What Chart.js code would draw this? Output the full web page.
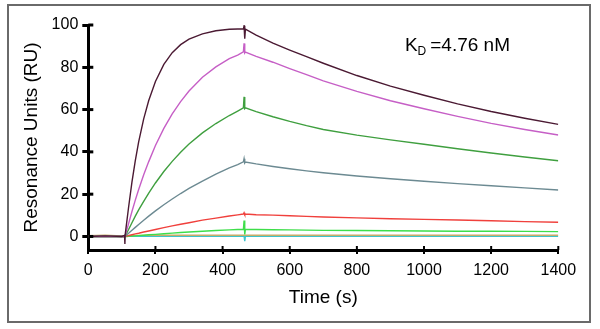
<!DOCTYPE html>
<html>
<head>
<meta charset="utf-8">
<script src="https://cdn.jsdelivr.net/npm/chart.js@4"></script>
<style>
  html, body { margin: 0; padding: 0; background: #fff; }
  canvas { display: block; }
</style>
</head>
<body>
<canvas id="sensorgram" width="600" height="329"></canvas>
<script>
  // time points (s), shared by every curve
  const times = [0, 50, 100, 108, 109, 110, 120, 130, 140, 150, 165, 180, 200, 225, 250, 275, 300, 340, 380, 420, 445,
    462, 464, 466, 468, 500, 550, 600, 650, 700, 800, 900, 1000, 1100, 1200, 1300, 1400];

  // response (RU), one array per concentration
  const curveTop = [0, 0.3, 0, 0.5, -3.5, 1, 13.8, 25.7, 35.9, 44.7, 55.6, 64.3, 73.3, 81.4, 86.9, 90.7, 93.3, 95.8, 97.3, 98, 98.1,
    98.2, 99.6, 93.5, 98, 95.2, 91.4, 88.1, 85, 81.9, 76.1, 71.1, 66.8, 62.7, 59.1, 55.9, 53];
  const curveMagenta = [0, 0, 0, 0, 0, 0.5, 6.1, 11.8, 17.2, 22.2, 29.2, 35.4, 43, 51.1, 58, 63.8, 68.8, 75.3, 80.2, 84.1, 85.8,
    87.3, 91.3, 86.8, 87.2, 85.2, 82.4, 79.4, 76.5, 73.6, 68.6, 64.2, 60.4, 56.8, 53.5, 50.6, 48];
  const curveGreen = [0, 0, 0, 0, 0, 0.3, 3.3, 6.5, 9.6, 12.6, 16.6, 20.5, 25.3, 30.7, 35.5, 39.8, 43.7, 49, 53.4, 57.2, 59.3,
    60.8, 66, 60.5, 60.8, 59, 56.6, 54.4, 52.4, 50.6, 47.9, 45.7, 43.6, 41.5, 39.5, 37.6, 35.8];
  const curveGrey = [0, 0, 0, 0, 0, 0.2, 1.5, 2.9, 4.3, 5.7, 7.7, 9.6, 12.1, 15, 17.7, 20.3, 22.7, 26.2, 29.5, 32.4, 34,
    35.3, 36.8, 34.8, 35.2, 34.3, 33.1, 32, 31, 30.1, 28.6, 27.3, 26.1, 25, 24, 23, 22];
  const curveRed = [0, 0, 0, 0, 0, 0.1, 0.4, 0.8, 1.2, 1.5, 2.1, 2.6, 3.3, 4.2, 5, 5.8, 6.5, 7.7, 8.7, 9.7, 10.2,
    10.6, 11.2, 10.4, 10.6, 10.3, 10.1, 9.8, 9.5, 9.2, 8.8, 8.4, 8.1, 7.8, 7.4, 7, 6.7];
  const curveLime = [0, 0, 0, 0, 0, 0, 0.1, 0.2, 0.3, 0.4, 0.6, 0.8, 1, 1.3, 1.6, 1.9, 2.1, 2.5, 2.8, 3.1, 3.3,
    3.4, 7.5, 1, 3.4, 3.3, 3.2, 3.1, 3, 2.9, 2.8, 2.7, 2.6, 2.5, 2.45, 2.4, 2.3];
  const curveTan = [0.4, 0.6, 0.3, 0.5, 0.5, 0.5, 0.5, 0.5, 0.5, 0.5, 0.5, 0.6, 0.6, 0.6, 0.6, 0.6, 0.6, 0.6, 0.6, 0.6, 0.6,
    0.6, 0.6, 0.6, 0.6, 0.6, 0.6, 0.6, 0.6, 0.6, 0.6, 0.6, 0.6, 0.6, 0.6, 0.6, 0.6];
  const curveCyan = [0, 0.1, 0, 0, 1, 0, 0.1, 0.1, 0.1, 0.1, 0.1, 0.1, 0.1, 0.1, 0.1, 0.1, 0.1, 0.1, 0.1, 0.1, 0.1,
    0.1, 0.1, -2.2, 0.1, 0.1, 0.1, 0.1, 0.1, 0.1, 0.1, 0.1, 0.1, 0.1, 0.1, 0.1, 0.1];

  const xTicks = [0, 200, 400, 600, 800, 1000, 1200, 1400];
  const yTicks = [0, 20, 40, 60, 80, 100];
  const kdLabel = { sym: "K", sub: "D", text: "=4.76 nM", t: 943, ru: 87.5 };

  const FONT = "'Liberation Sans', Arial, sans-serif";
  const toPoints = (vals) => times.map((t, i) => ({ x: t, y: vals[i] }));

  const series = [
    { data: curveTop, color: "#4b1a33" },
    { data: curveMagenta, color: "#c65fc6" },
    { data: curveGreen, color: "#3f9f3f" },
    { data: curveGrey, color: "#6c8a92" },
    { data: curveRed, color: "#f0403c" },
    { data: curveLime, color: "#3ede4a" },
    { data: curveTan, color: "#c8ac68" },
    { data: curveCyan, color: "#3ec4cc" },
  ];

  const frame = {
    id: "frame",
    beforeDraw(chart) {
      const ctx = chart.ctx;
      ctx.save();
      ctx.fillStyle = "#fff";
      ctx.fillRect(0, 0, chart.width, chart.height);
      ctx.strokeStyle = "#6a6a6a";
      ctx.lineWidth = 2;
      ctx.strokeRect(8, 5, 582, 317);
      ctx.restore();
    },
    afterDraw(chart) {
      const ctx = chart.ctx;
      const xs = chart.scales.x, ys = chart.scales.y;
      ctx.save();
      // inner halves of the tick marks
      ctx.strokeStyle = "#000";
      ctx.lineWidth = 3;
      yTicks.forEach((v) => {
        const py = ys.getPixelForValue(v);
        ctx.beginPath();
        ctx.moveTo(xs.left, py);
        ctx.lineTo(xs.left + 5, py);
        ctx.stroke();
      });
      ctx.lineWidth = 2;
      xTicks.forEach((v) => {
        const px = xs.getPixelForValue(v);
        ctx.beginPath();
        ctx.moveTo(px, ys.bottom);
        ctx.lineTo(px, ys.bottom - 4);
        ctx.stroke();
      });
      // K_D annotation
      const px = xs.getPixelForValue(kdLabel.t);
      const py = ys.getPixelForValue(kdLabel.ru);
      ctx.fillStyle = "#000";
      ctx.textBaseline = "alphabetic";
      ctx.font = "19px " + FONT;
      ctx.fillText(kdLabel.sym, px, py);
      const kw = ctx.measureText(kdLabel.sym).width;
      ctx.font = "12px " + FONT;
      ctx.fillText(kdLabel.sub, px + kw, py + 4);
      const dw = ctx.measureText(kdLabel.sub).width;
      ctx.font = "19px " + FONT;
      ctx.fillText(kdLabel.text, px + kw + dw + 4, py);
      ctx.restore();
    },
  };

  new Chart(document.getElementById("sensorgram"), {
    type: "line",
    data: {
      datasets: series.map((s) => ({
        data: toPoints(s.data),
        borderColor: s.color,
        borderWidth: 1.4,
        pointRadius: 0,
        fill: false,
        tension: 0,
      })),
    },
    options: {
      responsive: false,
      animation: false,
      events: [],
      layout: { padding: { left: 8, right: 41.7, top: 25, bottom: 10 } },
      plugins: { legend: { display: false }, tooltip: { enabled: false } },
      scales: {
        x: {
          type: "linear",
          min: 0,
          max: 1400,
          afterBuildTicks: (scale) => { scale.ticks = xTicks.map((v) => ({ value: v })); },
          afterFit: (scale) => { scale.height = 69; },
          border: { display: true, color: "#000", width: 3 },
          grid: { drawOnChartArea: false, color: "#000", lineWidth: 2, tickLength: 4 },
          ticks: { color: "#000", padding: 7, font: { family: FONT, size: 16 }, maxRotation: 0, callback: (v) => String(v) },
          title: { display: true, text: "Time (s)", color: "#000", font: { family: FONT, size: 19 }, padding: { top: 0, bottom: 10 } },
        },
        y: {
          min: -6.4,
          max: 100,
          afterBuildTicks: (scale) => { scale.ticks = yTicks.map((v) => ({ value: v })); },
          afterFit: (scale) => { scale.width = 80.3; },
          border: { display: true, color: "#000", width: 3 },
          grid: { drawOnChartArea: false, color: "#000", lineWidth: 3, tickLength: 6 },
          ticks: { color: "#000", padding: 4, font: { family: FONT, size: 16 }, callback: (v) => String(v) },
          title: { display: true, text: "Resonance Units (RU)", color: "#000", font: { family: FONT, size: 19 }, padding: { top: 12.6, bottom: 0 } },
        },
      },
    },
    plugins: [frame],
  });
</script>
</body>
</html>
